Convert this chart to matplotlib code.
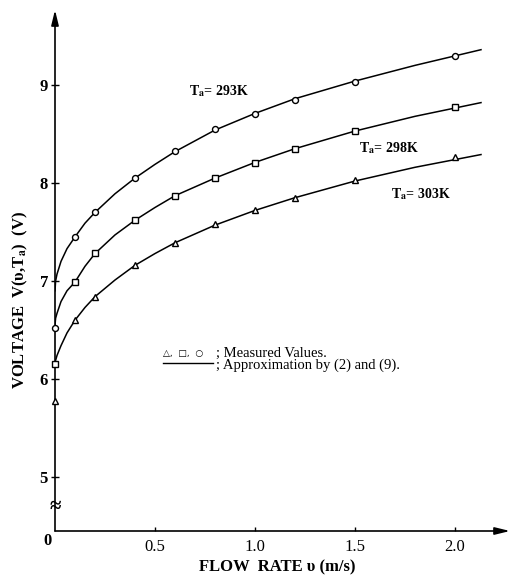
import matplotlib
matplotlib.use("Agg")
import matplotlib.pyplot as plt

plt.rcParams['font.family'] = ['Liberation Serif', 'DejaVu Sans']
plt.rcParams['mathtext.fontset'] = 'stix'

# measured values
flow = [0, 0.1, 0.2, 0.4, 0.6, 0.8, 1.0, 1.2, 1.5, 2.0]
v_293 = [6.52, 7.45, 7.70, 8.05, 8.33, 8.55, 8.70, 8.85, 9.03, 9.30]
v_298 = [6.15, 6.99, 7.29, 7.62, 7.87, 8.05, 8.20, 8.35, 8.53, 8.78]
v_303 = [5.78, 6.60, 6.84, 7.16, 7.39, 7.58, 7.72, 7.85, 8.03, 8.27]

# approximation curves
fit_flow = [0, 0.003, 0.01, 0.03, 0.06, 0.1, 0.15, 0.2, 0.3, 0.4, 0.5, 0.6,
            0.8, 1.0, 1.2, 1.5, 1.8, 2.13]
fit_293 = [6.90, 7.00, 7.07, 7.20, 7.33, 7.45, 7.59, 7.70, 7.89, 8.05, 8.19,
           8.32, 8.54, 8.71, 8.86, 9.04, 9.20, 9.36]
fit_298 = [6.55, 6.62, 6.67, 6.79, 6.90, 6.99, 7.15, 7.28, 7.47, 7.62, 7.75,
           7.87, 8.05, 8.21, 8.35, 8.53, 8.68, 8.82]
fit_303 = [6.15, 6.19, 6.24, 6.34, 6.47, 6.60, 6.73, 6.84, 7.01, 7.16, 7.28,
           7.39, 7.57, 7.72, 7.85, 8.02, 8.16, 8.29]

labels = ["293K", "298K", "303K"]
label_pos = [(0.82, 8.94), (1.67, 8.36), (1.83, 7.89)]
markers = ["o", "s", "^"]

fig = plt.figure(figsize=(5.1, 5.86), dpi=100)
ax = fig.add_axes([55 / 510, 55 / 586, 455 / 510, 521 / 586])
ax.set_xlim(0, 2.275)
ax.set_ylim(4.449, 9.765)
for sp in ax.spines.values():
    sp.set_visible(False)

# axes with arrow heads
arrow = dict(arrowstyle='-|>,head_length=0.9,head_width=0.22', lw=1.2,
             color='black', shrinkA=0, shrinkB=0)
ax.annotate('', xy=(0, 1), xytext=(0, 0), xycoords='axes fraction', arrowprops=arrow)
ax.annotate('', xy=(1, 0), xytext=(0, 0), xycoords='axes fraction', arrowprops=arrow)

for vals, fit, mk, lab, pos in zip([v_293, v_298, v_303], [fit_293, fit_298, fit_303],
                                   markers, labels, label_pos):
    ax.plot(fit_flow, fit, color='black', lw=1.1, zorder=2)
    ax.plot(flow, vals, linestyle='none', marker=mk, ms=4.3, mfc='white',
            mec='black', mew=1.0, zorder=3, clip_on=False)
    ax.text(pos[0], pos[1], r"T$_{\mathbf{a}}$= " + lab, ha='center', va='center',
            fontsize=10, fontweight='bold')

ax.set_yticks([5, 6, 7, 8, 9])
ax.set_xticks([0.5, 1.0, 1.5, 2.0])
ax.set_xticklabels(['0.5', '1.0', '1.5', '2.0'])
ax.tick_params(axis='y', direction='inout', length=6, width=1, pad=2, labelsize=12)
ax.tick_params(axis='x', direction='in', length=3, width=1, pad=6, labelsize=12)
for t in ax.get_yticklabels():
    t.set_fontweight('bold')

ax.annotate('0', xy=(0, 0), xycoords='axes fraction', xytext=(-3, -2),
            textcoords='offset pixels', ha='right', va='top', fontsize=12,
            fontweight='bold')
ax.text(0, 4.694, '≈', ha='center', va='center', fontsize=15, fontweight='bold')

# legend written as text
ax.text(0.54, 6.265, '△,  □,  ○', ha='left', va='center', fontsize=6.5,
        family=['DejaVu Sans'])
ax.plot([0.54, 0.79], [6.163, 6.163], color='black', lw=1.0)
ax.text(0.805, 6.199, '; Measured Values.\n; Approximation by (2) and (9).',
        ha='left', va='center', fontsize=10.5, linespacing=0.8)

fig.text(20 / 510, 1 - 300 / 586, r"VOLTAGE  V(υ,T$_{\mathbf{a}}$)  (V)", rotation=90,
         ha='center', va='center', fontsize=12, fontweight='bold')
fig.text(277 / 510, 1 - 567 / 586, "FLOW  RATE υ (m/s)", ha='center', va='center',
         fontsize=12, fontweight='bold')

fig.savefig('out.png', dpi=100)
